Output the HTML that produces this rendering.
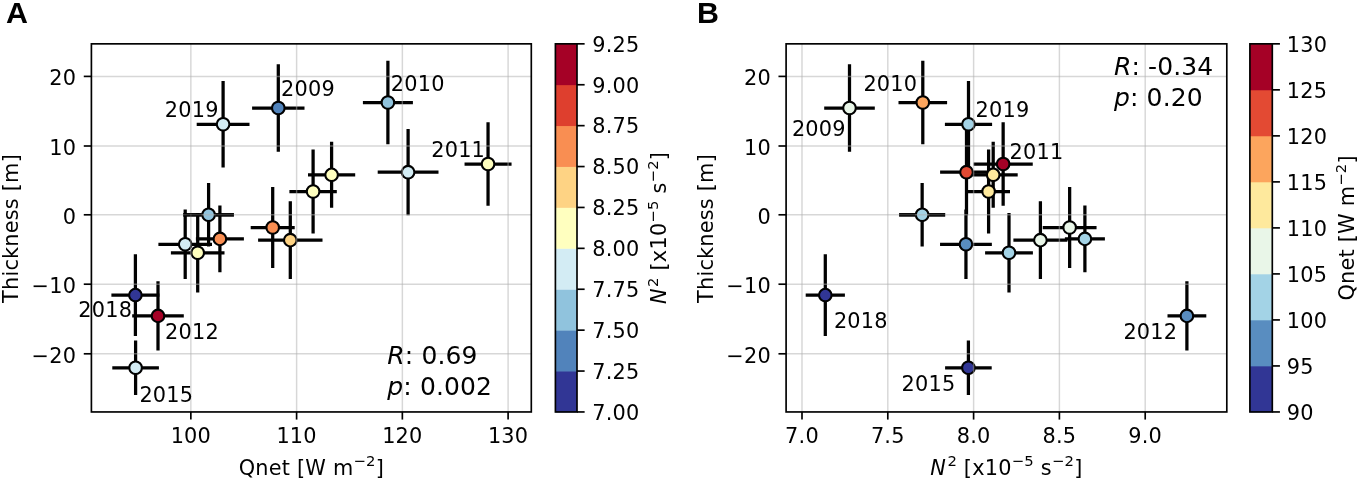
<!DOCTYPE html>
<html lang="en"><head><meta charset="utf-8"><title>Figure</title>
<style>html,body{margin:0;padding:0;background:#fff;overflow:hidden}svg{display:block;opacity:0.999;will-change:transform}</style>
</head><body>
<svg width='1358' height='479' viewBox='0 0 1358 479' font-family='"DejaVu Sans", "Liberation Sans", sans-serif' fill='#000' letter-spacing='0.22'>
<rect width='1358' height='479' fill='#fff'/>
<text x='5.9' y='23.4' font-size='30.4' text-anchor='start' font-family='"Liberation Sans", "DejaVu Sans", sans-serif' font-weight='bold'>A</text>
<text x='697' y='23.4' font-size='30.4' text-anchor='start' font-family='"Liberation Sans", "DejaVu Sans", sans-serif' font-weight='bold'>B</text>
<g stroke='#000' stroke-width='3.25' fill='none'>
<path d='M111.4 295.1H159.4M135.4 254.2V336'/>
<path d='M132.2 315.9H183.8M158 281.2V350.6'/>
<path d='M112.3 367.8H158.9M135.6 340.6V395'/>
<path d='M196.7 124.3H249.5M223.1 81.1V167.5'/>
<path d='M252.1 108H304.5M278.3 64.2V151.8'/>
<path d='M362.9 102.5H412.9M387.9 60.7V144.3'/>
<path d='M464.55 164H511.55M488.05 122.15V205.85'/>
<path d='M377.7 172.2H438.5M408.1 129.1V215.3'/>
<path d='M308 174.85H355.2M331.6 141.85V207.85'/>
<path d='M289.4 191.5H336.8M313.1 149.5V233.5'/>
<path d='M183.3 214.8H233.9M208.6 183V246.6'/>
<path d='M250.7 227.5H294.7M272.7 187.1V267.9'/>
<path d='M195.9 238.9H243.9M219.9 205.5V272.3'/>
<path d='M258.1 240.15H322.5M290.3 201.3V279'/>
<path d='M158.4 244.3H212M185.2 209.6V279'/>
<path d='M170.9 252.8H224.5M197.7 213V292.6'/>
</g>
<g stroke='#000' stroke-width='2.1'>
<circle cx='135.4' cy='295.1' r='6.3' fill='#313695'/>
<circle cx='158' cy='315.9' r='6.3' fill='#a50026'/>
<circle cx='135.6' cy='367.8' r='6.3' fill='#d3ecf4'/>
<circle cx='223.1' cy='124.3' r='6.3' fill='#d3ecf4'/>
<circle cx='278.3' cy='108' r='6.3' fill='#5183bb'/>
<circle cx='387.9' cy='102.5' r='6.3' fill='#90c3dd'/>
<circle cx='488.05' cy='164' r='6.3' fill='#ffffbf'/>
<circle cx='408.1' cy='172.2' r='6.3' fill='#d3ecf4'/>
<circle cx='331.6' cy='174.85' r='6.3' fill='#ffffbf'/>
<circle cx='313.1' cy='191.5' r='6.3' fill='#ffffbf'/>
<circle cx='208.6' cy='214.8' r='6.3' fill='#90c3dd'/>
<circle cx='272.7' cy='227.5' r='6.3' fill='#f98e52'/>
<circle cx='219.9' cy='238.9' r='6.3' fill='#f98e52'/>
<circle cx='290.3' cy='240.15' r='6.3' fill='#fed384'/>
<circle cx='185.2' cy='244.3' r='6.3' fill='#d3ecf4'/>
<circle cx='197.7' cy='252.8' r='6.3' fill='#ffffbf'/>
</g>
<g stroke='#b0b0b0' stroke-opacity='0.5' stroke-width='1.45'>
<path d='M190.85 43.85V411.95'/>
<path d='M296.6 43.85V411.95'/>
<path d='M402.35 43.85V411.95'/>
<path d='M508.1 43.85V411.95'/>
<path d='M91.4 76.4H531.3'/>
<path d='M91.4 146H531.3'/>
<path d='M91.4 214.8H531.3'/>
<path d='M91.4 284.2H531.3'/>
<path d='M91.4 353.8H531.3'/>
</g>
<g stroke='#000' fill='none'>
<path d='M183.3 213.83H201.55' stroke-width='1.3'/>
<path d='M183.3 215.9H201.55' stroke-width='1.05'/>
<path d='M215.65 213.83H233.9' stroke-width='1.3'/>
<path d='M215.65 215.9H233.9' stroke-width='1.05'/>
</g>
<g stroke='#000' stroke-width='1.67'>
<path d='M190.85 411.95V419.58'/>
<path d='M296.6 411.95V419.58'/>
<path d='M402.35 411.95V419.58'/>
<path d='M508.1 411.95V419.58'/>
<path d='M91.4 76.4H83.77'/>
<path d='M91.4 146H83.77'/>
<path d='M91.4 214.8H83.77'/>
<path d='M91.4 284.2H83.77'/>
<path d='M91.4 353.8H83.77'/>
</g>
<rect x='91.4' y='43.85' width='439.9' height='368.1' fill='none' stroke='#000' stroke-width='1.67'/>
<text x='190.85' y='443.3' font-size='20.83' text-anchor='middle'>100</text>
<text x='296.6' y='443.3' font-size='20.83' text-anchor='middle'>110</text>
<text x='402.35' y='443.3' font-size='20.83' text-anchor='middle'>120</text>
<text x='508.1' y='443.3' font-size='20.83' text-anchor='middle'>130</text>
<text x='76.2' y='85.1' font-size='20.83' text-anchor='end'>20</text>
<text x='76.2' y='154.7' font-size='20.83' text-anchor='end'>10</text>
<text x='76.2' y='223.5' font-size='20.83' text-anchor='end'>0</text>
<text x='76.2' y='292.9' font-size='20.83' text-anchor='end'>&#8722;10</text>
<text x='76.2' y='362.5' font-size='20.83' text-anchor='end'>&#8722;20</text>
<text x='311.35' y='474.5' font-size='20.83' text-anchor='middle'>Qnet [W m<tspan dy='-8.02' font-size='14.8'>&#8722;2</tspan><tspan dy='8.02'>&#8203;</tspan>]</text>
<text transform='translate(18.2 228.5) rotate(-90)' font-size='20.83' text-anchor='middle'>Thickness [m]</text>
<text x='164.8' y='116.5' font-size='20.83' text-anchor='start'>2019</text>
<text x='281.1' y='95.9' font-size='20.83' text-anchor='start'>2009</text>
<text x='390.8' y='91.45' font-size='20.83' text-anchor='start'>2010</text>
<text x='431.2' y='156.6' font-size='20.83' text-anchor='start'>2011</text>
<text x='78.3' y='317.3' font-size='20.83' text-anchor='start'>2018</text>
<text x='165' y='338.7' font-size='20.83' text-anchor='start'>2012</text>
<text x='139.4' y='401.5' font-size='20.83' text-anchor='start'>2015</text>
<text x='387.3' y='364.2' font-size='25' letter-spacing='0.12'><tspan font-style='italic'>R</tspan>: 0.69</text>
<text x='387.3' y='395.4' font-size='25' letter-spacing='0.12'><tspan font-style='italic'>p</tspan>: 0.002</text>
<rect x='555.4' y='371.05' width='21.6' height='41.3' fill='#313695'/>
<rect x='555.4' y='330.15' width='21.6' height='41.3' fill='#5183bb'/>
<rect x='555.4' y='289.25' width='21.6' height='41.3' fill='#90c3dd'/>
<rect x='555.4' y='248.35' width='21.6' height='41.3' fill='#d3ecf4'/>
<rect x='555.4' y='207.45' width='21.6' height='41.3' fill='#ffffbf'/>
<rect x='555.4' y='166.55' width='21.6' height='41.3' fill='#fed384'/>
<rect x='555.4' y='125.65' width='21.6' height='41.3' fill='#f98e52'/>
<rect x='555.4' y='84.75' width='21.6' height='41.3' fill='#de3f2e'/>
<rect x='555.4' y='43.85' width='21.6' height='41.3' fill='#a50026'/>
<g stroke='#000' stroke-width='1.67'>
<path d='M577 411.95H584.63'/>
<path d='M577 371.05H584.63'/>
<path d='M577 330.15H584.63'/>
<path d='M577 289.25H584.63'/>
<path d='M577 248.35H584.63'/>
<path d='M577 207.45H584.63'/>
<path d='M577 166.55H584.63'/>
<path d='M577 125.65H584.63'/>
<path d='M577 84.75H584.63'/>
<path d='M577 43.85H584.63'/>
</g>
<rect x='555.4' y='43.85' width='21.6' height='368.1' fill='none' stroke='#000' stroke-width='1.67'/>
<text x='592.2' y='419.75' font-size='20.83' text-anchor='start'>7.00</text>
<text x='592.2' y='378.85' font-size='20.83' text-anchor='start'>7.25</text>
<text x='592.2' y='337.95' font-size='20.83' text-anchor='start'>7.50</text>
<text x='592.2' y='297.05' font-size='20.83' text-anchor='start'>7.75</text>
<text x='592.2' y='256.15' font-size='20.83' text-anchor='start'>8.00</text>
<text x='592.2' y='215.25' font-size='20.83' text-anchor='start'>8.25</text>
<text x='592.2' y='174.35' font-size='20.83' text-anchor='start'>8.50</text>
<text x='592.2' y='133.45' font-size='20.83' text-anchor='start'>8.75</text>
<text x='592.2' y='92.55' font-size='20.83' text-anchor='start'>9.00</text>
<text x='592.2' y='51.65' font-size='20.83' text-anchor='start'>9.25</text>
<text transform='translate(666 227.9) rotate(-90)' font-size='20.83' text-anchor='middle'><tspan font-style='italic'>N</tspan><tspan dx='1.2'>&#8203;</tspan><tspan dy='-8.02' font-size='14.8'>2</tspan><tspan dy='8.02'>&#8203;</tspan> [x10<tspan dy='-8.02' font-size='14.8'>&#8722;5</tspan><tspan dy='8.02'>&#8203;</tspan> s<tspan dy='-8.02' font-size='14.8'>&#8722;2</tspan><tspan dy='8.02'>&#8203;</tspan>]</text>
<g stroke='#000' stroke-width='3.25' fill='none'>
<path d='M805.7 295.1H844.9M825.3 254.2V336'/>
<path d='M1167.5 315.9H1206.3M1186.9 281.2V350.6'/>
<path d='M945.1 367.8H991.7M968.4 340.6V395'/>
<path d='M944.9 124.3H992.1M968.5 81.1V167.5'/>
<path d='M824.2 108H874.8M849.5 64.2V151.8'/>
<path d='M898.5 102.5H947.1M922.8 60.7V144.3'/>
<path d='M973.55 164H1032.75M1003.15 122.15V205.85'/>
<path d='M940.1 172.2H992.9M966.5 129.1V215.3'/>
<path d='M968.7 174.85H1017.7M993.2 141.85V207.85'/>
<path d='M967.2 191.5H1010M988.6 149.5V233.5'/>
<path d='M899.15 214.8H945.15M922.15 183V246.6'/>
<path d='M1042.75 227.5H1096.55M1069.65 187.1V267.9'/>
<path d='M1064.9 238.9H1104.9M1084.9 205.5V272.3'/>
<path d='M1013.4 240.15H1067.4M1040.4 201.3V279'/>
<path d='M940.05 244.3H991.85M965.95 209.6V279'/>
<path d='M985.1 252.8H1032.9M1009 213V292.6'/>
</g>
<g stroke='#000' stroke-width='2.1'>
<circle cx='825.3' cy='295.1' r='6.3' fill='#313695'/>
<circle cx='1186.9' cy='315.9' r='6.3' fill='#598dc0'/>
<circle cx='968.4' cy='367.8' r='6.3' fill='#313695'/>
<circle cx='968.5' cy='124.3' r='6.3' fill='#a3d3e6'/>
<circle cx='849.5' cy='108' r='6.3' fill='#e9f6e8'/>
<circle cx='922.8' cy='102.5' r='6.3' fill='#fca55d'/>
<circle cx='1003.15' cy='164' r='6.3' fill='#a50026'/>
<circle cx='966.5' cy='172.2' r='6.3' fill='#e34a33'/>
<circle cx='993.2' cy='174.85' r='6.3' fill='#fee99d'/>
<circle cx='988.6' cy='191.5' r='6.3' fill='#fee99d'/>
<circle cx='922.15' cy='214.8' r='6.3' fill='#a3d3e6'/>
<circle cx='1069.65' cy='227.5' r='6.3' fill='#e9f6e8'/>
<circle cx='1084.9' cy='238.9' r='6.3' fill='#a3d3e6'/>
<circle cx='1040.4' cy='240.15' r='6.3' fill='#e9f6e8'/>
<circle cx='965.95' cy='244.3' r='6.3' fill='#598dc0'/>
<circle cx='1009' cy='252.8' r='6.3' fill='#a3d3e6'/>
</g>
<g stroke='#b0b0b0' stroke-opacity='0.5' stroke-width='1.45'>
<path d='M802 43.85V411.95'/>
<path d='M887.8 43.85V411.95'/>
<path d='M973.6 43.85V411.95'/>
<path d='M1059.4 43.85V411.95'/>
<path d='M1145.2 43.85V411.95'/>
<path d='M786.1 76.4H1226.8'/>
<path d='M786.1 146H1226.8'/>
<path d='M786.1 214.8H1226.8'/>
<path d='M786.1 284.2H1226.8'/>
<path d='M786.1 353.8H1226.8'/>
</g>
<g stroke='#000' fill='none'>
<path d='M899.15 213.83H915.1' stroke-width='1.3'/>
<path d='M899.15 215.9H915.1' stroke-width='1.05'/>
<path d='M929.2 213.83H945.15' stroke-width='1.3'/>
<path d='M929.2 215.9H945.15' stroke-width='1.05'/>
</g>
<g stroke='#000' stroke-width='1.67'>
<path d='M802 411.95V419.58'/>
<path d='M887.8 411.95V419.58'/>
<path d='M973.6 411.95V419.58'/>
<path d='M1059.4 411.95V419.58'/>
<path d='M1145.2 411.95V419.58'/>
<path d='M786.1 76.4H778.47'/>
<path d='M786.1 146H778.47'/>
<path d='M786.1 214.8H778.47'/>
<path d='M786.1 284.2H778.47'/>
<path d='M786.1 353.8H778.47'/>
</g>
<rect x='786.1' y='43.85' width='440.7' height='368.1' fill='none' stroke='#000' stroke-width='1.67'/>
<text x='802' y='443.3' font-size='20.83' text-anchor='middle'>7.0</text>
<text x='887.8' y='443.3' font-size='20.83' text-anchor='middle'>7.5</text>
<text x='973.6' y='443.3' font-size='20.83' text-anchor='middle'>8.0</text>
<text x='1059.4' y='443.3' font-size='20.83' text-anchor='middle'>8.5</text>
<text x='1145.2' y='443.3' font-size='20.83' text-anchor='middle'>9.0</text>
<text x='770.9' y='85.1' font-size='20.83' text-anchor='end'>20</text>
<text x='770.9' y='154.7' font-size='20.83' text-anchor='end'>10</text>
<text x='770.9' y='223.5' font-size='20.83' text-anchor='end'>0</text>
<text x='770.9' y='292.9' font-size='20.83' text-anchor='end'>&#8722;10</text>
<text x='770.9' y='362.5' font-size='20.83' text-anchor='end'>&#8722;20</text>
<text x='1006.45' y='474.5' font-size='20.83' text-anchor='middle'><tspan font-style='italic'>N</tspan><tspan dx='1.2'>&#8203;</tspan><tspan dy='-8.02' font-size='14.8'>2</tspan><tspan dy='8.02'>&#8203;</tspan> [x10<tspan dy='-8.02' font-size='14.8'>&#8722;5</tspan><tspan dy='8.02'>&#8203;</tspan> s<tspan dy='-8.02' font-size='14.8'>&#8722;2</tspan><tspan dy='8.02'>&#8203;</tspan>]</text>
<text transform='translate(712.9 228.5) rotate(-90)' font-size='20.83' text-anchor='middle'>Thickness [m]</text>
<text x='791.9' y='135.9' font-size='20.83' text-anchor='start'>2009</text>
<text x='863.4' y='90.9' font-size='20.83' text-anchor='start'>2010</text>
<text x='975.5' y='116.9' font-size='20.83' text-anchor='start'>2019</text>
<text x='1009.6' y='159' font-size='20.83' text-anchor='start'>2011</text>
<text x='833.9' y='327.6' font-size='20.83' text-anchor='start'>2018</text>
<text x='901.6' y='391.3' font-size='20.83' text-anchor='start'>2015</text>
<text x='1123.4' y='338.75' font-size='20.83' text-anchor='start'>2012</text>
<text x='1114' y='75' font-size='25' letter-spacing='0.12'><tspan font-style='italic'>R</tspan>: -0.34</text>
<text x='1114' y='106.2' font-size='25' letter-spacing='0.12'><tspan font-style='italic'>p</tspan>: 0.20</text>
<rect x='1249.9' y='365.94' width='22.4' height='46.41' fill='#313695'/>
<rect x='1249.9' y='319.93' width='22.4' height='46.41' fill='#598dc0'/>
<rect x='1249.9' y='273.91' width='22.4' height='46.41' fill='#a3d3e6'/>
<rect x='1249.9' y='227.9' width='22.4' height='46.41' fill='#e9f6e8'/>
<rect x='1249.9' y='181.89' width='22.4' height='46.41' fill='#fee99d'/>
<rect x='1249.9' y='135.88' width='22.4' height='46.41' fill='#fca55d'/>
<rect x='1249.9' y='89.86' width='22.4' height='46.41' fill='#e34a33'/>
<rect x='1249.9' y='43.85' width='22.4' height='46.41' fill='#a50026'/>
<g stroke='#000' stroke-width='1.67'>
<path d='M1272.3 411.95H1279.93'/>
<path d='M1272.3 365.94H1279.93'/>
<path d='M1272.3 319.93H1279.93'/>
<path d='M1272.3 273.91H1279.93'/>
<path d='M1272.3 227.9H1279.93'/>
<path d='M1272.3 181.89H1279.93'/>
<path d='M1272.3 135.88H1279.93'/>
<path d='M1272.3 89.86H1279.93'/>
<path d='M1272.3 43.85H1279.93'/>
</g>
<rect x='1249.9' y='43.85' width='22.4' height='368.1' fill='none' stroke='#000' stroke-width='1.67'/>
<text x='1286.7' y='419.75' font-size='20.83' text-anchor='start'>90</text>
<text x='1286.7' y='373.74' font-size='20.83' text-anchor='start'>95</text>
<text x='1286.7' y='327.73' font-size='20.83' text-anchor='start'>100</text>
<text x='1286.7' y='281.71' font-size='20.83' text-anchor='start'>105</text>
<text x='1286.7' y='235.7' font-size='20.83' text-anchor='start'>110</text>
<text x='1286.7' y='189.69' font-size='20.83' text-anchor='start'>115</text>
<text x='1286.7' y='143.68' font-size='20.83' text-anchor='start'>120</text>
<text x='1286.7' y='97.66' font-size='20.83' text-anchor='start'>125</text>
<text x='1286.7' y='51.65' font-size='20.83' text-anchor='start'>130</text>
<text transform='translate(1354 227.9) rotate(-90)' font-size='20.83' text-anchor='middle'>Qnet [W m<tspan dy='-8.02' font-size='14.8'>&#8722;2</tspan><tspan dy='8.02'>&#8203;</tspan>]</text>
</svg>
</body></html>
